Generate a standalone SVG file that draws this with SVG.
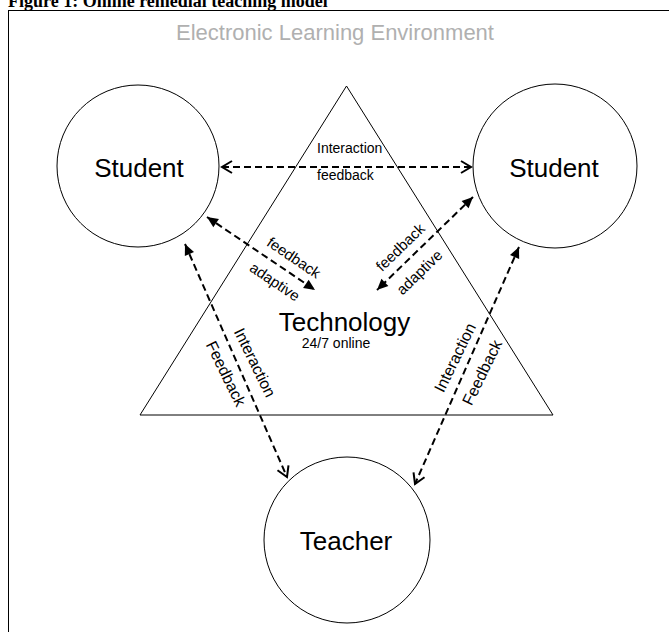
<svg xmlns="http://www.w3.org/2000/svg" width="669" height="632" viewBox="0 0 669 632">
<style>
.t{font-family:"Liberation Sans",Arial,sans-serif;fill:#000}
.shape{fill:none;stroke:#000;stroke-width:1}
.conn{fill:none;stroke:#000;stroke-width:2;stroke-dasharray:7 4}
</style>
<defs>
<marker id="open" markerUnits="userSpaceOnUse" markerWidth="16" markerHeight="16" viewBox="-13 -8 16 16" refX="0" refY="0" orient="auto-start-reverse"><path d="M-10,-6 L0,0 L-10,6" fill="none" stroke="#000" stroke-width="2"/></marker>
<marker id="fill" markerUnits="userSpaceOnUse" markerWidth="16" markerHeight="16" viewBox="-13 -8 16 16" refX="0" refY="0" orient="auto-start-reverse"><path d="M-11,-5 L0,0 L-11,5 z" fill="#000"/></marker>
</defs>
<rect width="669" height="632" fill="#fff"/>
<text x="8" y="7" font-family="'Liberation Serif','Times New Roman',serif" font-weight="bold" font-size="18">Figure 1: Online remedial teaching model</text>
<rect x="8.5" y="10.5" width="700" height="660" class="shape"/>
<text x="335" y="40" text-anchor="middle" font-family="'Liberation Sans',Arial,sans-serif" font-size="22" fill="#b0b0b0">Electronic Learning Environment</text>
<g id="technology">
<polygon points="346.5,86 140,415 553,415" class="shape"/>
<text class="t" x="344.5" y="331" text-anchor="middle" font-size="26">Technology</text>
<text class="t" x="336" y="348" text-anchor="middle" font-size="14">24/7 online</text>
</g>
<g id="student-left">
<circle cx="138" cy="166" r="81" fill="#fff" class="shape"/>
<text class="t" x="139" y="177" text-anchor="middle" font-size="26">Student</text>
</g>
<g id="student-right">
<circle cx="555" cy="166" r="82" fill="#fff" class="shape"/>
<text class="t" x="554" y="177" text-anchor="middle" font-size="26">Student</text>
</g>
<g id="teacher">
<circle cx="347" cy="540" r="83" fill="#fff" class="shape"/>
<text class="t" x="346" y="550" text-anchor="middle" font-size="26">Teacher</text>
</g>
<g id="connectors">
<line x1="222" y1="167" x2="471" y2="167" class="conn" marker-start="url(#open)" marker-end="url(#open)"/>
<line x1="207" y1="217" x2="315" y2="290" class="conn" marker-start="url(#fill)" marker-end="url(#fill)"/>
<line x1="473" y1="197" x2="377" y2="290" class="conn" marker-start="url(#fill)" marker-end="url(#fill)"/>
<line x1="185" y1="244" x2="287" y2="477" class="conn" marker-start="url(#fill)" marker-end="url(#open)"/>
<line x1="519" y1="247" x2="415" y2="484" class="conn" marker-start="url(#fill)" marker-end="url(#open)"/>
<text class="t" x="317" y="153" font-size="14">Interaction</text>
<text class="t" x="317" y="180" font-size="14">feedback</text>
<text class="t" font-size="15" text-anchor="middle" transform="translate(291,262) rotate(34)">feedback</text>
<text class="t" font-size="15" text-anchor="middle" transform="translate(272,286) rotate(34)">adaptive</text>
<text class="t" font-size="15" text-anchor="middle" transform="translate(404,251) rotate(-44)">feedback</text>
<text class="t" font-size="15" text-anchor="middle" transform="translate(423,276) rotate(-44)">adaptive</text>
<text class="t" font-size="16" text-anchor="middle" transform="translate(250,365) rotate(64)">Interaction</text>
<text class="t" font-size="16" text-anchor="middle" transform="translate(221,376) rotate(64)">Feedback</text>
<text class="t" font-size="16" text-anchor="middle" transform="translate(460,360) rotate(-64)">Interaction</text>
<text class="t" font-size="16" text-anchor="middle" transform="translate(487,375) rotate(-64)">Feedback</text>
</g>
</svg>
